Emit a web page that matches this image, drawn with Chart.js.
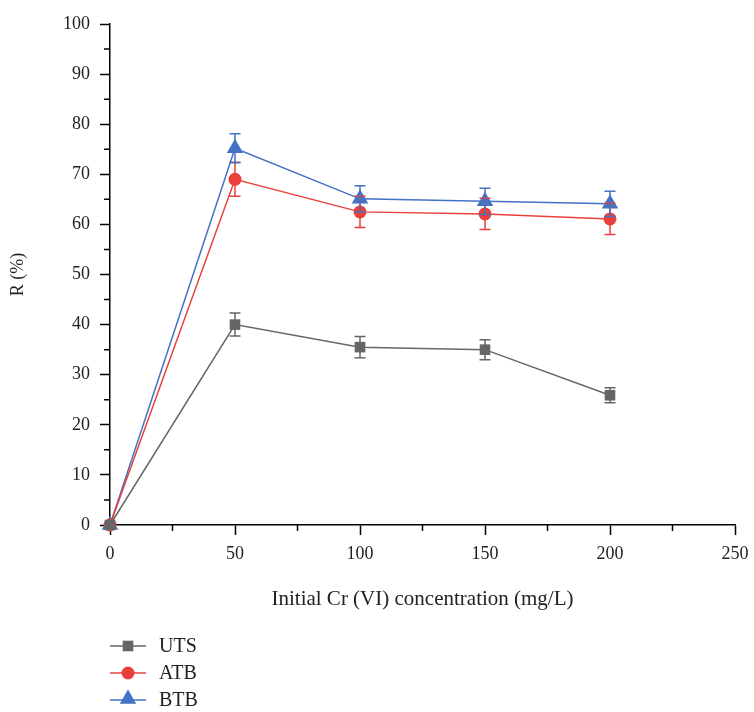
<!DOCTYPE html>
<html>
<head>
<meta charset="utf-8">
<style>
  html, body { margin: 0; padding: 0; background: #fff; }
  #wrap { width: 754px; height: 712px; }
</style>
<script src="https://cdn.jsdelivr.net/npm/chart.js@4.4.1/dist/chart.umd.min.js"></script>
</head>
<body>
<div id="wrap"><canvas id="removalChart" width="754" height="712"></canvas></div>
<script>
// concentration (mg/L) on the x axis
const concentrations = [0, 50, 100, 150, 200];

// removal R (%) with error bar half-widths
const utsR = [0, 40.0, 35.5, 35.0, 25.9];
const utsErr = [0, 2.3, 2.1, 2.0, 1.5];
const atbR = [0, 69.0, 62.5, 62.1, 61.1];
const atbErr = [0, 3.4, 3.1, 3.1, 3.1];
const btbR = [0, 75.2, 65.1, 64.6, 64.1];
const btbErr = [0, 2.9, 2.6, 2.6, 2.5];

const seriesNames = ['UTS', 'ATB', 'BTB'];
const xTitle = 'Initial Cr (VI) concentration (mg/L)';
const yTitle = 'R (%)';

const FONT = "'Liberation Serif', 'DejaVu Serif', serif";
const colors = ['#666666', '#e8403a', '#4472c4'];
const markers = ['rect', 'circle', 'triangle'];
const radii = [7.5, 6.5, 9.5];

function toPoints(ys) {
  return concentrations.map((x, i) => ({ x: x, y: ys[i] }));
}

const values = [utsR, atbR, btbR];
const errors = [utsErr, atbErr, btbErr];

// error bars, drawn over the markers
const errorBars = {
  id: 'errorBars',
  afterDatasetsDraw(chart) {
    const { ctx, scales } = chart;
    ctx.save();
    chart.data.datasets.forEach((ds, d) => {
      ctx.strokeStyle = colors[d];
      ctx.lineWidth = 1.5;
      concentrations.forEach((c, i) => {
        const err = errors[d][i];
        if (!err) return;
        const x = scales.x.getPixelForValue(c);
        const yTop = scales.y.getPixelForValue(values[d][i] + err);
        const yBot = scales.y.getPixelForValue(values[d][i] - err);
        ctx.beginPath();
        ctx.moveTo(x, yTop); ctx.lineTo(x, yBot);
        ctx.moveTo(x - 5.5, yTop); ctx.lineTo(x + 5.5, yTop);
        ctx.moveTo(x - 5.5, yBot); ctx.lineTo(x + 5.5, yBot);
        ctx.stroke();
      });
    });
    ctx.restore();
  }
};

// minor ticks halfway between the major ones
const minorTicks = {
  id: 'minorTicks',
  afterDraw(chart) {
    const { ctx, scales, chartArea } = chart;
    ctx.save();
    ctx.strokeStyle = '#000';
    ctx.lineWidth = 1.5;
    ctx.beginPath();
    for (let v = 25; v < 250; v += 50) {
      const x = scales.x.getPixelForValue(v);
      ctx.moveTo(x, chartArea.bottom); ctx.lineTo(x, chartArea.bottom + 6);
    }
    for (let v = 5; v < 100; v += 10) {
      const y = scales.y.getPixelForValue(v);
      ctx.moveTo(chartArea.left, y); ctx.lineTo(chartArea.left - 6, y);
    }
    ctx.stroke();
    ctx.restore();
  }
};

function drawMarker(ctx, style, x, y, r) {
  ctx.beginPath();
  if (style === 'rect') {
    const s = r * Math.SQRT1_2;
    ctx.rect(x - s, y - s, 2 * s, 2 * s);
  } else if (style === 'circle') {
    ctx.arc(x, y, r, 0, Math.PI * 2);
  } else {
    ctx.moveTo(x, y - r);
    ctx.lineTo(x + r * Math.sin(2 * Math.PI / 3), y - r * Math.cos(2 * Math.PI / 3));
    ctx.lineTo(x + r * Math.sin(4 * Math.PI / 3), y - r * Math.cos(4 * Math.PI / 3));
    ctx.closePath();
  }
  ctx.fill();
}

// stacked legend below the x axis title
const stackedLegend = {
  id: 'stackedLegend',
  afterDraw(chart) {
    const ctx = chart.ctx;
    ctx.save();
    ctx.font = '20px ' + FONT;
    ctx.textBaseline = 'middle';
    seriesNames.forEach((name, i) => {
      const y = 646 + i * 27;
      ctx.strokeStyle = colors[i];
      ctx.fillStyle = colors[i];
      ctx.lineWidth = 1.5;
      ctx.beginPath();
      ctx.moveTo(110, y); ctx.lineTo(146, y);
      ctx.stroke();
      drawMarker(ctx, markers[i], 128, i === 2 ? y - 1 : y, radii[i]);
      ctx.fillStyle = '#222';
      ctx.fillText(name, 159, y + 1);
    });
    ctx.restore();
  }
};

const ctx = document.getElementById('removalChart').getContext('2d');
new Chart(ctx, {
  type: 'line',
  data: {
    datasets: seriesNames.map((name, i) => ({
      label: name,
      data: toPoints(values[i]),
      borderColor: colors[i],
      backgroundColor: colors[i],
      borderWidth: 1.5,
      pointStyle: markers[i],
      pointRadius: radii[i],
      pointBorderWidth: 0,
      pointBackgroundColor: colors[i],
      tension: 0,
      clip: false,
    })),
  },
  options: {
    responsive: false,
    animation: false,
    layout: { padding: { left: 0, top: 24, right: 19, bottom: 100 } },
    plugins: {
      legend: { display: false },
      tooltip: { enabled: false },
    },
    scales: {
      x: {
        type: 'linear',
        min: 0,
        max: 250,
        ticks: { stepSize: 50, color: '#222', padding: 8, font: { family: FONT, size: 18 } },
        grid: { drawOnChartArea: false, tickLength: 10, tickColor: '#000', tickWidth: 1.5 },
        border: { display: true, color: '#000', width: 1.5 },
        title: { display: true, text: xTitle, color: '#222', font: { family: FONT, size: 21 }, padding: { top: 0, bottom: 0 } },
        afterFit(scale) {
          scale.height = 87;
          scale.paddingRight = 0;
          scale.paddingLeft = 0;
        },
      },
      y: {
        min: 0,
        max: 100,
        ticks: { stepSize: 10, color: '#222', padding: 10, font: { family: FONT, size: 18 } },
        grid: { drawOnChartArea: false, tickLength: 10, tickColor: '#000', tickWidth: 1.5 },
        border: { display: true, color: '#000', width: 1.5 },
        title: { display: true, text: yTitle, color: '#222', font: { family: FONT, size: 18 }, padding: { top: 7, bottom: 0 } },
        afterFit(scale) { scale.width = 110; },
      },
    },
  },
  plugins: [errorBars, minorTicks, stackedLegend],
});
</script>
</body>
</html>
